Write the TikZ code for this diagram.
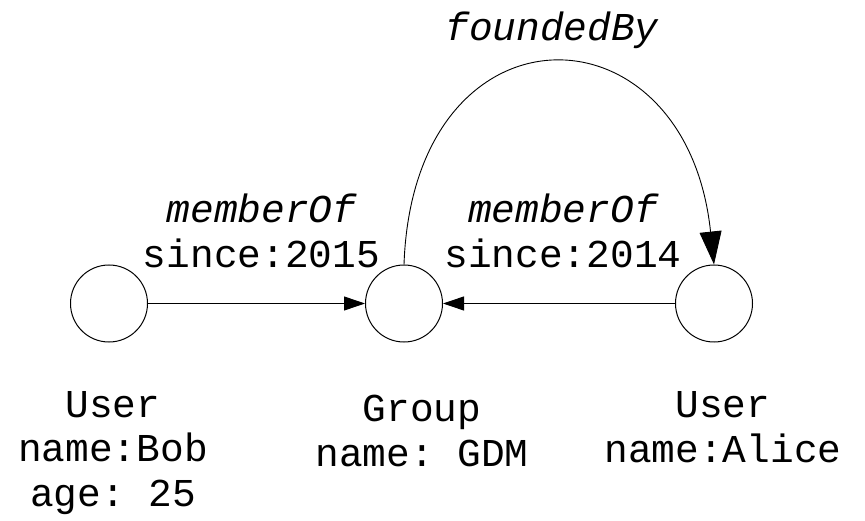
\documentclass[tikz,border=0pt]{standalone}
\usepackage{fontspec}
\setmonofont{Liberation Mono}
\usetikzlibrary{positioning, calc, arrows.meta}

\begin{document}
\begin{tikzpicture}[x=1pt, y=-1pt,
                    font=\ttfamily\fontsize{39.5}{44.5}\selectfont,
                    vertex/.style={draw, circle, line width=1pt, minimum size=77pt, inner sep=0pt},
                    edge/.style={line width=0.9pt, -{Triangle[length=21pt, width=14pt]}},
                    bigedge/.style={line width=0.9pt, -{Triangle[length=33pt, width=22pt]}},
                    info/.style={align=center}]
                    \useasboundingbox (0,0) rectangle (865,521);

                    \node[vertex] (bob)   at (109,303.5) {};
                    \node[vertex] (group) at (404,303.5) {};
                    \node[vertex] (alice) at (714,303.5) {};

                    \node[info] (bobinfo)   at (113,453) {User\\name:Bob\\age: 25};
                    \node[info] (groupinfo) at (422,431) {Group\\name: GDM};
                    \node[info] (aliceinfo) at (723,427) {User\\name:Alice};

                    \draw[edge] (bob) -- (group)
                        node[midway, above=32pt, xshift=5pt, align=center] {\itshape memberOf\\since:2015};
                    \draw[edge] (alice) -- (group)
                        node[midway, above=32pt, xshift=4pt, align=center] {\itshape memberOf\\since:2014};
                    \draw[bigedge] (group.north) .. controls +(-88:268) and +(-96:268) .. (alice.north)
                        node[midway, above=12pt] {\itshape foundedBy};
                \end{tikzpicture}
\end{document}
